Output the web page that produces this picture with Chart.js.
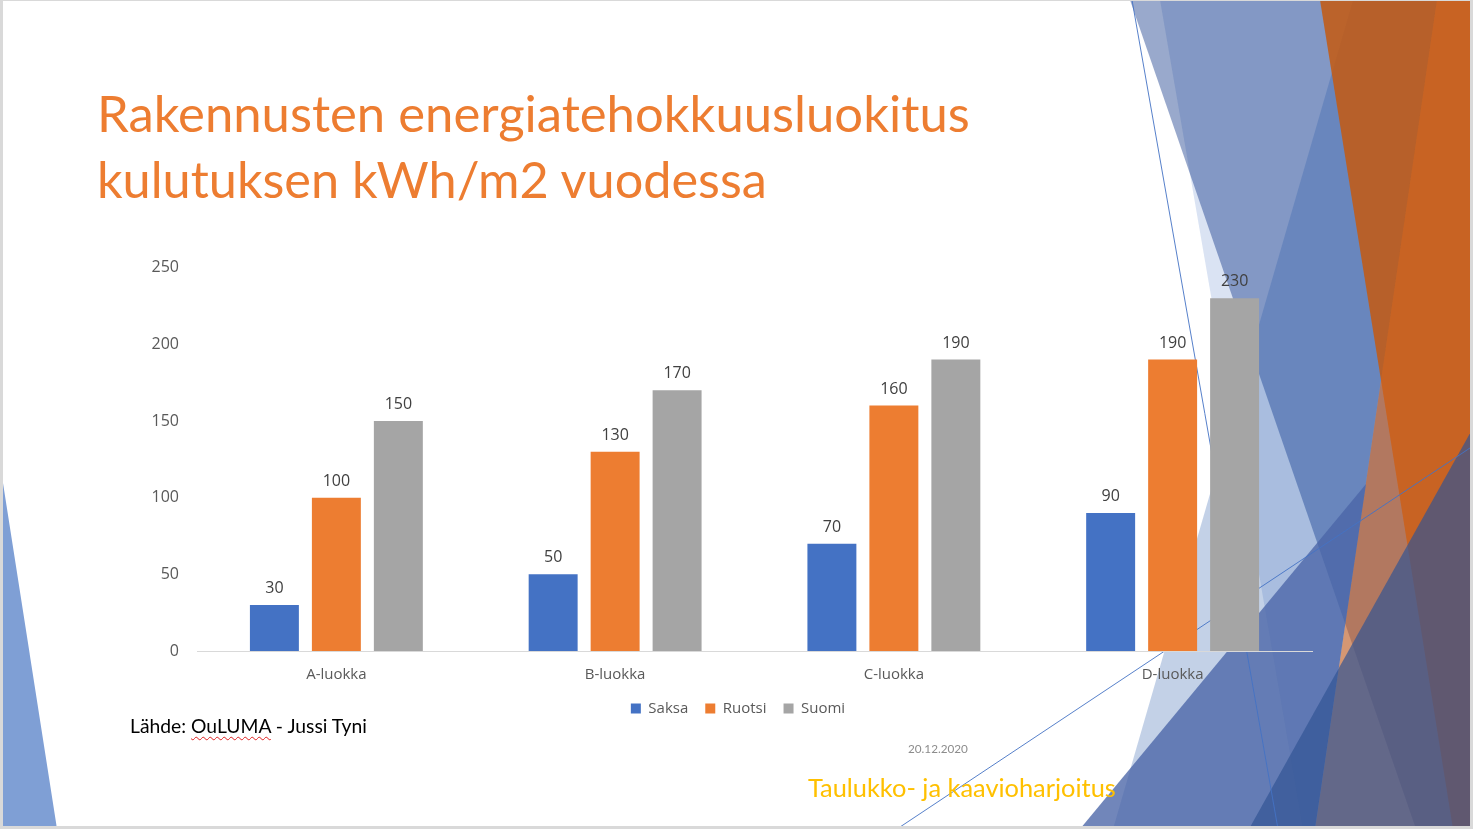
<!DOCTYPE html>
<html>
<head>
<meta charset="utf-8">
<script src="https://cdn.jsdelivr.net/npm/chart.js@4.4.1/dist/chart.umd.min.js"></script>
<style>
  body { margin: 0; width: 1473px; height: 829px; overflow: hidden; position: relative; background: #d9d9d9; }
  #slide { position: absolute; left: 3px; top: 1px; width: 1467px; height: 825px; background: #fff; }
  #deco { position: absolute; left: 0; top: 0; }
  .txt { position: absolute; white-space: nowrap; line-height: normal; }
  #title1, #title2 { font-family: Lato, sans-serif; color: #ED7D31; font-size: 50px; }
  #source { font-family: Lato, sans-serif; color: #000; font-size: 20px; }
  #source span { text-decoration: underline wavy #e02020; text-decoration-thickness: 1px; text-underline-offset: 3px; }
  #date { font-family: Lato, sans-serif; color: #8c8c8c; font-size: 13px; }
  #footer { font-family: Lato, sans-serif; color: #FFC000; font-size: 24px; }
  #chartBox { position: absolute; left: 120px; top: 240px; }
</style>
</head>
<body>
<div id="slide"></div>
<canvas id="deco" width="1473" height="829"></canvas>

<div class="txt" id="title1">Rakennusten energiatehokkuusluokitus</div>
<div class="txt" id="title2">kulutuksen kWh/m2 vuodessa</div>
<div class="txt" id="source">Lähde: <span>OuLUMA</span> - Jussi Tyni</div>
<div class="txt" id="date">20.12.2020</div>
<div class="txt" id="footer">Taulukko- ja kaavioharjoitus</div>

<div id="chartBox"><canvas id="myChart" width="1210" height="486"></canvas></div>

<script>
// chart data
var categories = ["A-luokka", "B-luokka", "C-luokka", "D-luokka"];
var saksa = [30, 50, 70, 90];
var ruotsi = [100, 130, 160, 190];
var suomi = [150, 170, 190, 230];
var seriesNames = ["Saksa", "Ruotsi", "Suomi"];
var yTicks = [0, 50, 100, 150, 200, 250];

// background shapes of the slide theme (not data)
function drawDeco() {
  var c = document.getElementById('deco').getContext('2d');
  c.save();
  c.beginPath();
  c.rect(3, 1, 1467, 825);
  c.clip();

  function poly(pts, col) {
    c.beginPath();
    c.moveTo(pts[0][0], pts[0][1]);
    for (var i = 1; i < pts.length; i++) c.lineTo(pts[i][0], pts[i][1]);
    c.closePath();
    c.fillStyle = col;
    c.fill();
  }

  poly([[3, 483], [57, 829], [3, 829]], '#7f9fd5');

  poly([[1160, 0], [1473, 0], [1473, 829], [1303, 829]], 'rgba(68,114,196,0.2)');
  poly([[1130, 0], [1473, 0], [1473, 829], [1416, 829]], 'rgba(0,40,127,0.4)');
  poly([[1353, 0], [1437, 0], [1315, 829], [1113, 829]], 'rgba(40,88,170,0.28)');
  poly([[1320, 0], [1473, 0], [1473, 829], [1453, 829]], 'rgba(197,90,17,0.85)');
  poly([[1437, 0], [1473, 0], [1473, 829], [1315, 829]], 'rgba(210,100,30,0.6)');
  poly([[1080, 829], [1366, 484], [1315, 829]], 'rgba(75,102,168,0.79)');
  poly([[1473, 428], [1249, 829], [1473, 829]], 'rgba(49,84,148,0.69)');

  c.strokeStyle = 'rgba(68,114,196,0.9)';
  c.lineWidth = 1;
  c.beginPath();
  c.moveTo(1132, 0); c.lineTo(1278, 829);
  c.moveTo(897, 829); c.lineTo(1473, 446);
  c.stroke();
  c.restore();
}
drawDeco();

// put text at left x / baseline y, scaled to a target width
function placeText(id, x, baseline, targetW) {
  var el = document.getElementById(id);
  var cs = getComputedStyle(el);
  var size = parseFloat(cs.fontSize);
  if (targetW) {
    size = size * targetW / el.getBoundingClientRect().width;
    el.style.fontSize = size + 'px';
  }
  var m = document.createElement('canvas').getContext('2d');
  m.font = size + 'px ' + cs.fontFamily;
  var asc = m.measureText('Hg').fontBoundingBoxAscent;
  el.style.left = x + 'px';
  el.style.top = (baseline - asc) + 'px';
}
placeText('title1', 97, 132, 873);
placeText('title2', 97, 198, 670);
placeText('source', 130, 733, 237);
placeText('date', 908, 753, 60);
placeText('footer', 808, 797, 308);

// labels above bars
const barLabels = {
  id: 'barLabels',
  afterDatasetsDraw(chart) {
    const ctx = chart.ctx;
    ctx.save();
    ctx.font = "16px 'Open Sans'";
    ctx.fillStyle = '#404040';
    ctx.textAlign = 'center';
    ctx.textBaseline = 'alphabetic';
    chart.data.datasets.forEach(function(ds, i) {
      chart.getDatasetMeta(i).data.forEach(function(bar, j) {
        ctx.fillText(ds.data[j], bar.x, bar.y - 12);
      });
    });
    ctx.restore();
  }
};

// legend in the reference is centred a bit right of the canvas centre
const legendShift = {
  id: 'legendShift',
  afterLayout(chart) {
    chart.legend.left += 22;
    chart.legend.right += 22;
  }
};

Chart.defaults.font.family = "'Open Sans', sans-serif";
Chart.defaults.color = '#595959';

var ctx = document.getElementById('myChart');
var myChart = new Chart(ctx, {
  type: 'bar',
  data: {
    labels: categories,
    datasets: [
      { label: seriesNames[0], data: saksa, backgroundColor: '#4472C4' },
      { label: seriesNames[1], data: ruotsi, backgroundColor: '#ED7D31' },
      { label: seriesNames[2], data: suomi, backgroundColor: '#A5A5A5' }
    ]
  },
  options: {
    responsive: false,
    animation: false,
    categoryPercentage: 0.667,
    barPercentage: 0.79,
    layout: { padding: { left: 0, right: 18, top: 6, bottom: 0 } },
    scales: {
      x: {
        grid: { display: false, drawTicks: false },
        border: { color: '#d9d9d9', width: 1 },
        ticks: { font: { size: 15 }, padding: 15, color: '#595959' },
        afterFit: function(scale) { scale.height = 33; }
      },
      y: {
        min: 0,
        max: 250,
        afterBuildTicks: function(scale) { scale.ticks = yTicks.map(function(v) { return { value: v }; }); },
        grid: { display: false, drawTicks: false },
        border: { display: false },
        ticks: { font: { size: 16 }, padding: 18, color: '#595959' },
        afterFit: function(scale) { scale.width = 77; }
      }
    },
    plugins: {
      legend: {
        position: 'bottom',
        labels: { boxWidth: 10, boxHeight: 10, padding: 17, font: { size: 15 }, color: '#595959' }
      },
      tooltip: { enabled: false }
    }
  },
  plugins: [barLabels, legendShift]
});
</script>
</body>
</html>
